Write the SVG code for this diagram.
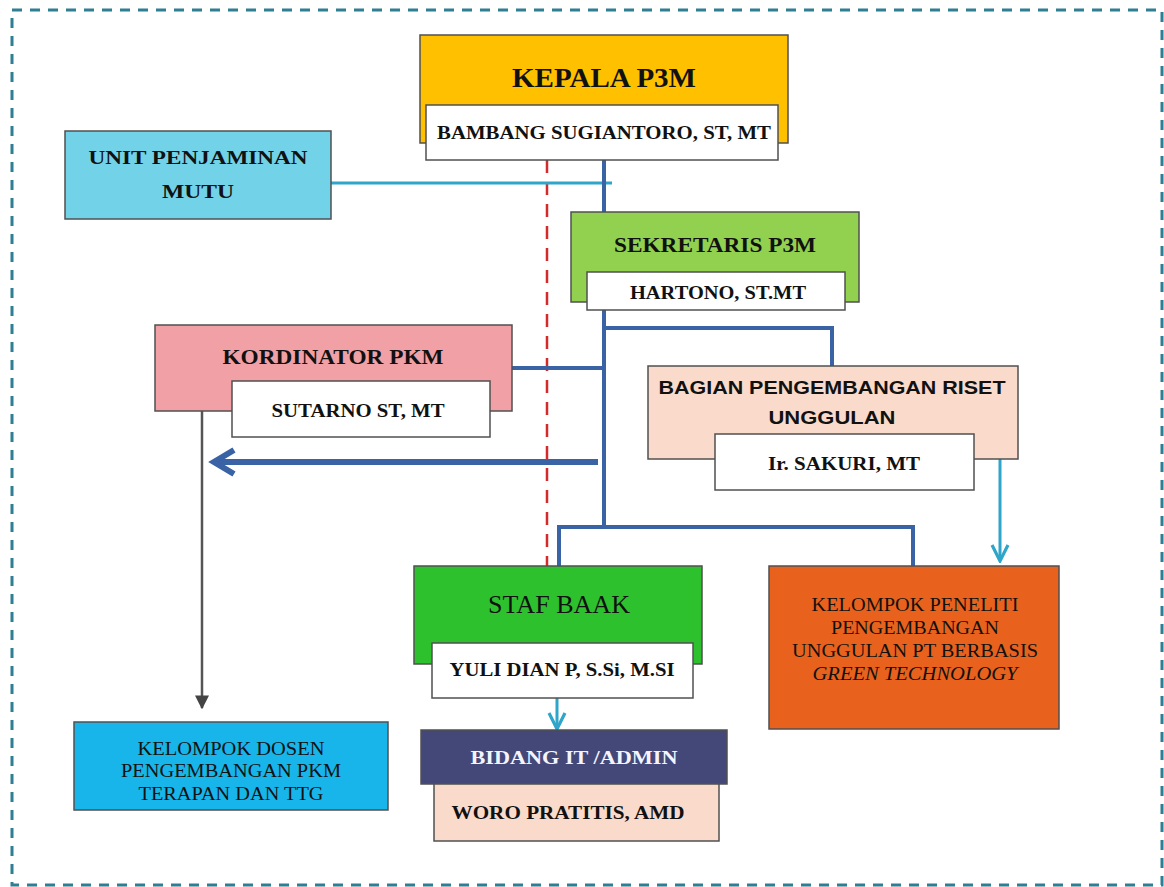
<svg xmlns="http://www.w3.org/2000/svg" width="1164" height="887" viewBox="0 0 1164 887">
<style>
.box{stroke:#505050;stroke-width:1.5}
.name{fill:#ffffff;stroke:#505050;stroke-width:1.5}
.t{font-family:"Liberation Serif","Times New Roman",serif;font-weight:bold;fill:#111;text-anchor:middle}
.r{font-family:"Liberation Serif","Times New Roman",serif;fill:#111;text-anchor:middle}
.s{font-family:"Liberation Sans",Arial,sans-serif;font-weight:bold;fill:#111;text-anchor:middle}
.blue{stroke:#3A63A6;stroke-width:4;fill:none}
.teal{stroke:#2FA5C9;stroke-width:3;fill:none}
</style>
<defs>
<marker id="ateal" viewBox="0 0 10 10" refX="9" refY="5" markerWidth="20" markerHeight="20" orient="auto" markerUnits="userSpaceOnUse">
<path d="M1,1 L9,5 L1,9" fill="none" stroke="#2FA5C9" stroke-width="1.6"/>
</marker>
<marker id="agray" viewBox="0 0 10 10" refX="9" refY="5" markerWidth="14" markerHeight="14" orient="auto" markerUnits="userSpaceOnUse">
<path d="M0,0 L10,5 L0,10 Z" fill="#444"/>
</marker>
</defs>
<rect x="12" y="10" width="1150" height="875" fill="none" stroke="#2E7F94" stroke-width="3" stroke-dasharray="10 8"/>

<g id="connectors">
<line x1="547" y1="160" x2="547" y2="566" stroke="#D42A2A" stroke-width="2.5" stroke-dasharray="13 9"/>
<line x1="331" y1="183" x2="612" y2="183" class="teal"/>
<polyline points="604,160 604,212" class="blue"/>
<polyline points="604,310 604,527" class="blue"/>
<polyline points="604,328 832,328 832,366" class="blue"/>
<polyline points="512,368 604,368" class="blue"/>
<polyline points="559,566 559,527 913,527 913,566" class="blue"/>
<line x1="598" y1="462" x2="218" y2="462" stroke="#3A63A6" stroke-width="6"/>
<path d="M234,450 L214,462 L234,474" fill="none" stroke="#3A63A6" stroke-width="6"/>
<line x1="202" y1="411" x2="202" y2="708" stroke="#555" stroke-width="2.5" marker-end="url(#agray)"/>
<line x1="1000" y1="459" x2="1000" y2="561" class="teal" marker-end="url(#ateal)"/>
<line x1="557" y1="698" x2="557" y2="729" class="teal" marker-end="url(#ateal)"/>
</g>

<g id="kepala">
<rect x="420" y="35" width="368" height="108" fill="#FFC000" class="box"/>
<text x="604" y="87" class="t" font-size="27" textLength="184" lengthAdjust="spacingAndGlyphs">KEPALA P3M</text>
<rect x="426" y="105" width="352" height="55" class="name" fill="#FFFDF6"/>
<text x="604" y="139" class="t" font-size="18" textLength="334" lengthAdjust="spacingAndGlyphs">BAMBANG SUGIANTORO, ST, MT</text>
</g>

<g id="upm">
<rect x="65" y="131" width="266" height="88" fill="#72D3E8" class="box"/>
<text x="198" y="164" class="t" font-size="19" textLength="219" lengthAdjust="spacingAndGlyphs">UNIT PENJAMINAN</text>
<text x="198" y="198" class="t" font-size="19" textLength="72" lengthAdjust="spacingAndGlyphs">MUTU</text>
</g>

<g id="sekretaris">
<rect x="571" y="212" width="288" height="90" fill="#92D050" class="box"/>
<text x="715" y="252" class="t" font-size="20" textLength="202" lengthAdjust="spacingAndGlyphs">SEKRETARIS P3M</text>
<rect x="587" y="272" width="258" height="38" class="name"/>
<text x="718" y="299" class="t" font-size="19" textLength="176" lengthAdjust="spacingAndGlyphs">HARTONO, ST.MT</text>
</g>

<g id="kordinator">
<rect x="155" y="325" width="357" height="86" fill="#F1A1A6" class="box"/>
<text x="333" y="364" class="t" font-size="20" textLength="221" lengthAdjust="spacingAndGlyphs">KORDINATOR PKM</text>
<rect x="232" y="381" width="258" height="56" class="name"/>
<text x="358" y="417" class="t" font-size="19" textLength="173" lengthAdjust="spacingAndGlyphs">SUTARNO ST, MT</text>
</g>

<g id="bagian">
<rect x="648" y="366" width="370" height="93" fill="#FADBCB" class="box"/>
<text x="832" y="394" class="s" font-size="19" textLength="347" lengthAdjust="spacingAndGlyphs">BAGIAN PENGEMBANGAN RISET</text>
<text x="832" y="424" class="s" font-size="19" textLength="127" lengthAdjust="spacingAndGlyphs">UNGGULAN</text>
<rect x="715" y="434" width="259" height="56" class="name"/>
<text x="844" y="470" class="t" font-size="19" textLength="152" lengthAdjust="spacingAndGlyphs">Ir. SAKURI, MT</text>
</g>

<g id="staf">
<rect x="414" y="566" width="288" height="98" fill="#2EC12E" class="box"/>
<text x="559" y="613" class="r" font-size="25" textLength="142" lengthAdjust="spacingAndGlyphs">STAF BAAK</text>
<rect x="432" y="643" width="261" height="55" class="name" fill="#F8FFF8"/>
<text x="562" y="676" class="t" font-size="18" textLength="225" lengthAdjust="spacingAndGlyphs">YULI DIAN P, S.Si, M.SI</text>
</g>

<g id="peneliti">
<rect x="769" y="566" width="290" height="163" fill="#E8621D" class="box"/>
<text x="915" y="611" class="r" font-size="19" textLength="207" lengthAdjust="spacingAndGlyphs">KELOMPOK PENELITI</text>
<text x="915" y="634" class="r" font-size="19" textLength="168" lengthAdjust="spacingAndGlyphs">PENGEMBANGAN</text>
<text x="915" y="657" class="r" font-size="19" textLength="246" lengthAdjust="spacingAndGlyphs">UNGGULAN PT BERBASIS</text>
<text x="915" y="680" class="r" font-size="18" font-style="italic" textLength="205" lengthAdjust="spacingAndGlyphs">GREEN TECHNOLOGY</text>
</g>

<g id="dosen">
<rect x="74" y="722" width="314" height="88" fill="#17B5EA" class="box"/>
<text x="231" y="755" class="r" font-size="19" textLength="187" lengthAdjust="spacingAndGlyphs">KELOMPOK DOSEN</text>
<text x="231" y="777" class="r" font-size="19" textLength="220" lengthAdjust="spacingAndGlyphs">PENGEMBANGAN PKM</text>
<text x="231" y="800" class="r" font-size="19" textLength="185" lengthAdjust="spacingAndGlyphs">TERAPAN DAN TTG</text>
</g>

<g id="bidang">
<rect x="421" y="730" width="306" height="54" fill="#434878" class="box"/>
<text x="574" y="764" class="t" font-size="19" style="fill:#F4F4FF" textLength="207" lengthAdjust="spacingAndGlyphs">BIDANG IT /ADMIN</text>
<rect x="434" y="784" width="285" height="57" fill="#FADBCB" class="box"/>
<text x="568" y="819" class="t" font-size="19" textLength="233" lengthAdjust="spacingAndGlyphs">WORO PRATITIS, AMD</text>
</g>
</svg>
